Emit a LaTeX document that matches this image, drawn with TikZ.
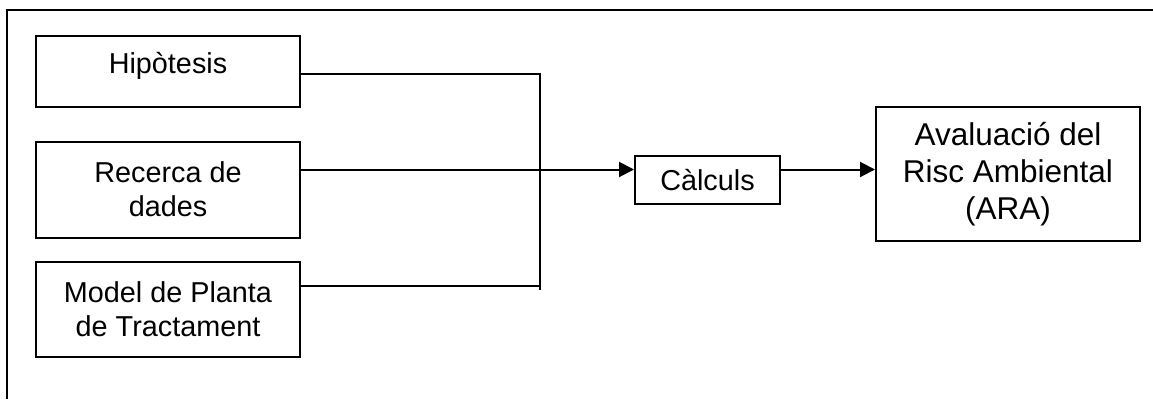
\documentclass[tikz,border=0pt]{standalone}
\usepackage{fontspec}
\setmainfont{Liberation Sans}
\usetikzlibrary{arrows.meta}

\begin{document}
\begin{tikzpicture}[x=1pt, y=-1pt,
  box/.style={draw=black, line width=2pt, rectangle, inner sep=0pt,
    align=center, minimum width=264pt,
    font=\fontsize{28.8}{34}\selectfont},
  bigtext/.style={font=\fontsize{31.5}{37}\selectfont},
  conn/.style={draw=black, line width=2pt},
  arrowconn/.style={conn, -{Triangle[length=15pt,width=15pt]}},
  frame/.style={draw=black, line width=2.6pt}]
\useasboundingbox (0,0) rectangle (1153,399);

% outer frame (only top and left edges fall inside the page)
\draw[frame] (1153,10) -- (7,10) -- (7,399);

% input boxes
\node[box, minimum height=71pt, text height=20.5pt, text depth=16pt] (hip) at (168,71.5) {Hipòtesis};
\node[box, minimum height=96pt] (rec) at (168,189.7) {Recerca de\\dades};
\node[box, minimum height=95.6pt] (mod) at (168,309.5) {Model de Planta\\de Tractament};

% processing and result
\node[box, minimum width=145pt, minimum height=48.3pt, text height=20.5pt, text depth=0pt] (calc) at (707.5,179.9) {Càlculs};
\node[box, bigtext, minimum height=133.7pt] (ara) at (1008,173.9) {Avaluació del\\Risc Ambiental\\(ARA)};

% junction points of the collecting line
\coordinate (j1) at (540,74);
\coordinate (jm) at (540,169.5);
\coordinate (j2) at (540,286);
\coordinate (jend) at (540,290);

\draw[conn] (hip.east |- j1) -- (j1) -- (jend);
\draw[conn] (mod.east |- j2) -- (j2);
\draw[arrowconn] (rec.east |- jm) -- (calc.west |- jm);
\draw[arrowconn] (calc.east |- jm) -- (ara.west |- jm);
\end{tikzpicture}
\end{document}
